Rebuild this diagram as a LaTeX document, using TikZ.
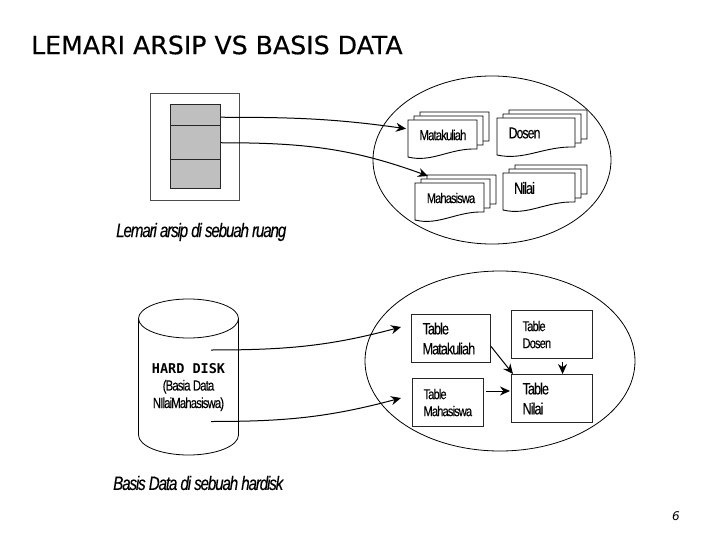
\documentclass[tikz,border=0pt]{standalone}
\usepackage{fontspec}
\setmainfont{Liberation Sans}
\newfontfamily\titlefont[FakeBold=0.4]{DejaVu Sans}
\newfontfamily\pagefont{DejaVu Sans}
\newfontfamily\narrowfont[LetterSpace=-6,FakeStretch=0.78,FakeBold=0.2]{Liberation Sans}
\newfontfamily\diskfont{DejaVu Sans Mono}
\usetikzlibrary{arrows.meta, positioning}

% one stack of three sheets: name, x, y of the front sheet, width
\newcommand{\docstack}[4]{%
    \foreach \k in {2,1,0} {
        \draw[sheet] ({#2+\k*6},{#3-\k*4}) -- ++(#4,0) -- ++(0,29)
            .. controls ({#2+\k*6+0.6*#4},{#3-\k*4+28}) and ({#2+\k*6+0.35*#4},{#3-\k*4+43}) .. ({#2+\k*6},{#3-\k*4+37}) -- cycle;
    }
    \node[inner sep=0pt, minimum width=#4 pt, minimum height=37pt, anchor=north west] (#1) at (#2,#3) {};
}

\begin{document}
\begin{tikzpicture}[
        x=1pt, y=-1pt,
        sheet/.style={draw=black, fill=white, line width=0.9pt},
        blob/.style={draw=black, line width=0.8pt},
        drawer/.style={draw=black!85, fill=black!25, line width=1pt, inner sep=0pt, minimum width=50pt, anchor=north west},
        tablebox/.style={draw=black!85, line width=1.1pt, align=left, inner xsep=11pt, inner ysep=0pt, minimum height=48pt, anchor=north west},
        bigtext/.style={font=\fontsize{16.3}{20}\selectfont\narrowfont},
        smalltext/.style={font=\fontsize{14.2}{17}\selectfont\narrowfont},
        doctext/.style={inner sep=0pt},
        caption/.style={font=\fontsize{19.5}{20}\selectfont\narrowfont\itshape, inner sep=0pt, anchor=west},
        arrow/.style={-{Stealth[length=10pt, width=9pt]}, line width=1pt}
    ]
        \useasboundingbox (0,0) rectangle (720,540);

        % Title
        \node[font=\fontsize{25.2}{28}\selectfont\titlefont, anchor=west, inner sep=0pt] (title) at (31,45) {LEMARI ARSIP VS BASIS DATA};
        \node[font=\fontsize{12}{14}\selectfont\pagefont\itshape, inner sep=0pt] (pagenum) at (676,516) {6};

        % Cabinet
        \draw[blob, draw=black!70] (150.5,93) rectangle (239.5,200);
        \node[drawer, minimum height=21.5pt] (drawertop) at (170,104) {};
        \node[drawer, minimum height=33.5pt] (drawermid) at (170,125.5) {};
        \node[drawer, minimum height=29pt] (drawerlow) at (170,159) {};
        \node[caption] (captop) at (116,232) {Lemari arsip di sebuah ruang};

        % Upper ellipse
        \draw[blob] (492,160) ellipse (119 and 84);
        \docstack{matakuliah}{408}{120}{69}
        \docstack{dosen}{497}{118}{78}
        \docstack{mahasiswa}{415}{183}{69}
        \docstack{nilai}{503}{173}{72}
        \node[doctext, font=\fontsize{14.5}{15}\selectfont\narrowfont] (matakuliahtext) at (443,135) {Matakuliah};
        \node[doctext, font=\fontsize{15.8}{15}\selectfont\narrowfont] (dosentext) at (524.5,133) {Dosen};
        \node[doctext, font=\fontsize{14.1}{15}\selectfont\narrowfont] (mahasiswatext) at (451,198) {Mahasiswa};
        \node[doctext, font=\fontsize{16.3}{15}\selectfont\narrowfont] (nilaitext) at (524.5,188) {Nilai};

        % Cabinet arrows
        \draw[arrow] ([yshift=-2pt]drawertop.east) to[out=0, in=172] ([shift={(-2,-10)}]matakuliah.west);
        \draw[arrow] ([yshift=0pt]drawermid.east) to[out=0, in=160] ([shift={(13,-7)}]mahasiswa.north west);

        % Hard disk
        \draw[blob] (138.5,318.5) -- (138.5,435) arc[start angle=180, end angle=0, x radius=50, y radius=20] -- (238.5,318.5);
        \draw[blob] (188.5,318.5) ellipse (50 and 19.5);
        \node[align=center, inner sep=0pt, font=\fontsize{14.6}{17.5}\selectfont] (disk) at (188.5,387) {%
            {\fontsize{13.5}{17.5}\selectfont\bfseries\diskfont HARD DISK}\\
            {\narrowfont (Basia Data}\\
            {\narrowfont NIlaiMahasiswa)}};
        \coordinate (diskup) at (211,350);
        \coordinate (disklow) at (211,421.5);
        \node[caption] (capbottom) at (113,483) {Basis Data di sebuah hardisk};

        % Lower ellipse
        \draw[blob] (500,361) ellipse (135 and 90);
        \node[tablebox, bigtext, text width=57pt] (tblmatakuliah) at (411,314) {Table\\Matakuliah};
        \node[tablebox, smalltext, text width=59pt] (tbldosen) at (511,310) {Table\\Dosen};
        \node[tablebox, smalltext, text width=49pt] (tblmahasiswa) at (412,378) {Table\\Mahasiswa};
        \node[tablebox, bigtext, text width=59pt] (tblnilai) at (511,374) {Table\\Nilai};

        % Disk arrows
        \draw[arrow] (diskup) to[out=0, in=195] ([shift={(-10,13)}]tblmatakuliah.north west);
        \draw[arrow] (disklow) to[out=0, in=195] ([shift={(-11,20)}]tblmahasiswa.north west);

        % Table arrows
        \draw[arrow] ([yshift=-8pt]tblmatakuliah.east) -- ([xshift=2pt]tblnilai.north west);
        \draw[arrow, shorten <=3pt] ([xshift=10.5pt]tbldosen.south) -- ([xshift=10.5pt]tblnilai.north);
        \draw[arrow, shorten <=2pt, shorten >=1pt] (tblmahasiswa.east |- 0,391) -- (tblnilai.west |- 0,391);

    \end{tikzpicture}
\end{document}
